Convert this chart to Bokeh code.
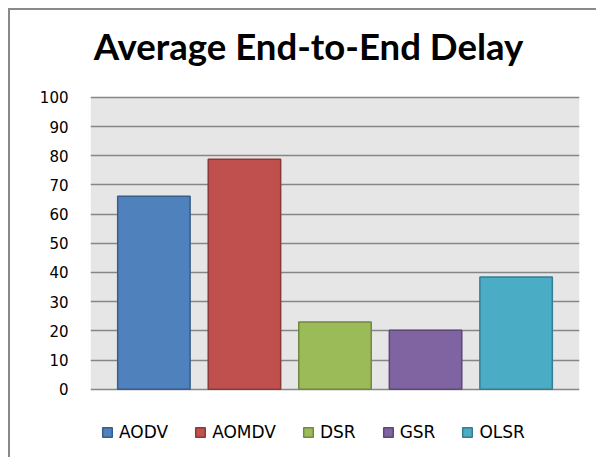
from bokeh.plotting import figure
from bokeh.models import Legend, LegendItem, Range1d, FixedTicker, BoxAnnotation, Label
from bokeh.embed import file_html
from bokeh.resources import INLINE

title_text = "Average End-to-End Delay"
protocols = ["AODV", "AOMDV", "DSR", "GSR", "OLSR"]
delays = [66.1, 78.8, 23.0, 20.2, 38.4]
fills = ["#4F81BD", "#C0504D", "#9BBB59", "#8064A2", "#4BACC6"]
edges = ["#385D8A", "#8C3836", "#71893F", "#5C4776", "#357D91"]
y_ticks = [0, 10, 20, 30, 40, 50, 60, 70, 80, 90, 100]

p = figure(width=588, height=449, output_backend="svg", toolbar_location=None,
           x_range=Range1d(0.3, 5.7), y_range=Range1d(-21, 127),
           min_border_left=80, min_border_right=19, min_border_top=8, min_border_bottom=9)
p.styles = {"margin-left": "8px", "margin-top": "8px",
            "border-left": "2px solid #898989", "border-top": "2px solid #898989"}

p.background_fill_color = "#FFFFFF"
p.border_fill_color = "#FFFFFF"
p.outline_line_color = None

plot_area = BoxAnnotation(bottom=0, top=100, fill_color="#E6E6E6", fill_alpha=1,
                          line_color=None, level="image")
p.add_layout(plot_area)

title = Label(x=0.335, y=117.5, text=title_text, text_font="Lato", text_font_style="bold",
              text_font_size="36.6px", text_color="#000000", text_align="left",
              text_baseline="alphabetic")
p.add_layout(title)

xs = list(range(1, len(protocols) + 1))
items = []
for i, (name, v) in enumerate(zip(protocols, delays)):
    r = p.vbar(x=[xs[i]], top=[v], bottom=0, width=0.8, fill_color=fills[i],
               line_color=edges[i], line_width=1.5)
    items.append(LegendItem(label=name, renderers=[r]))

p.xaxis.visible = False
p.xgrid.visible = False
p.ygrid.grid_line_color = "#868686"
p.ygrid.grid_line_width = 1.5
p.yaxis.ticker = FixedTicker(ticks=y_ticks)
p.yaxis.axis_line_color = None
p.yaxis.major_tick_line_color = None
p.yaxis.minor_tick_line_color = None
p.yaxis.major_label_standoff = 16
p.yaxis.major_label_text_font = "DejaVu Sans"
p.yaxis.major_label_text_font_size = "15px"
p.yaxis.major_label_text_color = "#000000"

legend = Legend(items=items, orientation="horizontal", location=(11, 8))
legend.label_text_font = "DejaVu Sans"
legend.label_text_font_size = "17px"
legend.label_text_color = "#000000"
legend.glyph_width = 12
legend.glyph_height = 12
legend.label_standoff = 6
legend.spacing = 26
legend.padding = 0
legend.margin = 0
legend.border_line_color = None
legend.background_fill_alpha = 0
p.add_layout(legend, "center")

open("out.html", "w").write(file_html(p, INLINE))
